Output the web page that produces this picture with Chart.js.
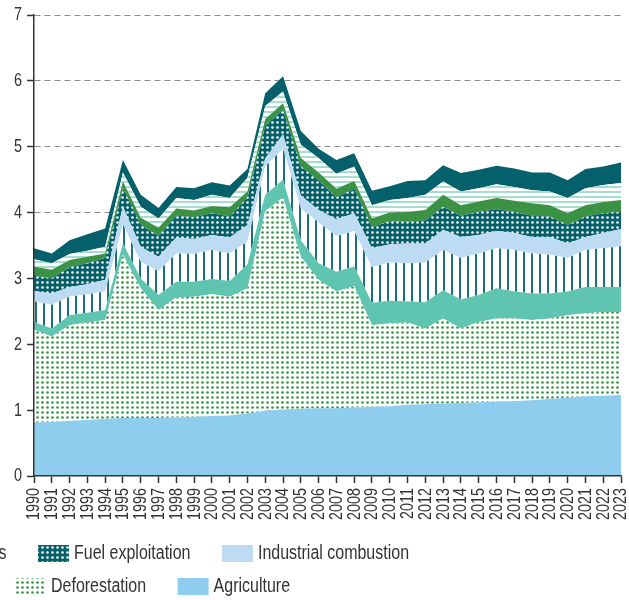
<!DOCTYPE html>
<html>
<head>
<meta charset="utf-8">
<script src="https://cdn.jsdelivr.net/npm/chart.js@4.4.1/dist/chart.umd.min.js"></script>
<style>
html,body{margin:0;padding:0;background:#fff;overflow:hidden}
#wrap{width:629px;height:600px;position:relative}
</style>
</head>
<body>
<div id="wrap"><canvas id="c" width="629" height="600"></canvas></div>
<script>
// ---- data ----
const years = ['1990','1991','1992','1993','1994','1995','1996','1997','1998','1999','2000','2001','2002','2003','2004','2005','2006','2007','2008','2009','2010','2011','2012','2013','2014','2015','2016','2017','2018','2019','2020','2021','2022','2023'];
const yTicks = [0,1,2,3,4,5,6,7];

const agriculture   = [0.81,0.82,0.84,0.85,0.87,0.88,0.88,0.88,0.89,0.90,0.91,0.92,0.95,0.99,1.01,1.02,1.03,1.03,1.04,1.05,1.06,1.08,1.09,1.10,1.11,1.12,1.13,1.14,1.15,1.17,1.19,1.21,1.22,1.23];
const deforestation = [1.41,1.30,1.45,1.48,1.50,2.48,1.97,1.64,1.82,1.82,1.85,1.80,1.90,3.03,3.22,2.31,1.95,1.77,1.84,1.24,1.26,1.25,1.15,1.29,1.13,1.22,1.26,1.25,1.22,1.22,1.25,1.26,1.27,1.26];
const waste         = [0.12,0.12,0.15,0.15,0.15,0.17,0.15,0.23,0.24,0.23,0.23,0.24,0.36,0.25,0.27,0.25,0.25,0.30,0.30,0.34,0.34,0.32,0.40,0.43,0.44,0.41,0.46,0.41,0.40,0.38,0.36,0.40,0.38,0.38];
const powerIndustry = [0.31,0.36,0.28,0.28,0.28,0.29,0.25,0.36,0.43,0.42,0.44,0.42,0.35,0.43,0.47,0.48,0.62,0.54,0.54,0.54,0.58,0.58,0.60,0.61,0.63,0.63,0.61,0.63,0.61,0.59,0.51,0.56,0.59,0.62];
const industrialCombustion = [0.16,0.17,0.15,0.15,0.18,0.27,0.23,0.22,0.24,0.23,0.23,0.24,0.25,0.12,0.22,0.20,0.19,0.26,0.27,0.29,0.28,0.30,0.29,0.31,0.32,0.28,0.26,0.26,0.25,0.27,0.22,0.20,0.23,0.26];
const fuelExploitation = [0.23,0.23,0.30,0.32,0.33,0.28,0.34,0.31,0.33,0.33,0.33,0.32,0.42,0.50,0.37,0.44,0.45,0.33,0.37,0.32,0.35,0.33,0.35,0.35,0.32,0.35,0.33,0.32,0.32,0.31,0.28,0.31,0.30,0.26];
const processes     = [0.14,0.13,0.11,0.10,0.07,0.10,0.10,0.13,0.11,0.10,0.11,0.14,0.09,0.10,0.10,0.13,0.12,0.13,0.12,0.13,0.13,0.15,0.16,0.18,0.16,0.16,0.17,0.17,0.19,0.17,0.18,0.17,0.17,0.18];
const transport     = [0.11,0.10,0.09,0.09,0.10,0.14,0.17,0.14,0.16,0.16,0.17,0.14,0.21,0.20,0.18,0.20,0.22,0.23,0.22,0.20,0.19,0.21,0.23,0.20,0.21,0.20,0.21,0.21,0.20,0.21,0.23,0.26,0.26,0.26];
const buildings     = [0.17,0.15,0.21,0.25,0.28,0.19,0.18,0.16,0.17,0.18,0.19,0.19,0.13,0.19,0.23,0.21,0.14,0.21,0.20,0.22,0.21,0.26,0.22,0.25,0.28,0.28,0.28,0.28,0.27,0.29,0.27,0.29,0.28,0.31];

const seriesNames = ['Agriculture','Deforestation','Waste','Power industry','Industrial combustion','Fuel exploitation','Processes','Transport','Buildings'];
const seriesData  = [agriculture, deforestation, waste, powerIndustry, industrialCombustion, fuelExploitation, processes, transport, buildings];

// ---- styles ----
const FONT = "'Liberation Sans', Arial, sans-serif";
const SQ_LEGEND = 0.82;    // horizontal condensing, to imitate a narrow typeface
const SQ_TICK = 0.8;
const TICK_SIZE = 18;
const TEXT = '#333333';
const canvas = document.getElementById('c');
const ctx = canvas.getContext('2d');

function makePattern(w, h, draw) {
  const c = document.createElement('canvas');
  c.width = w; c.height = h;
  const x = c.getContext('2d');
  draw(x, w, h);
  return ctx.createPattern(c, 'repeat');
}
const dotsGreen = makePattern(5, 5, (x) => {
  x.fillStyle = '#ffffff'; x.fillRect(0, 0, 5, 5);
  x.fillStyle = '#3a9646'; x.beginPath(); x.arc(2.5, 2.5, 1.35, 0, Math.PI * 2); x.fill();
});
const dotsOnTeal = makePattern(5, 5, (x) => {
  x.fillStyle = '#05606a'; x.fillRect(0, 0, 5, 5);
  x.fillStyle = '#ffffff'; x.beginPath(); x.arc(2.5, 2.5, 1.3, 0, Math.PI * 2); x.fill();
});
const vStripes = makePattern(8, 8, (x) => {
  x.fillStyle = '#ffffff'; x.fillRect(0, 0, 8, 8);
  x.fillStyle = '#1d6f79'; x.fillRect(3, 0, 2, 8);
});
const hStripes = makePattern(5, 5, (x) => {
  x.fillStyle = '#ffffff'; x.fillRect(0, 0, 5, 5);
  x.fillStyle = '#a8dccf'; x.fillRect(0, 1, 5, 2);
});
const fills = ['#8ecdee', dotsGreen, '#5fc4b0', vStripes, '#bddcf3', dotsOnTeal, '#3b9144', hStripes, '#04606a'];

// legend rows (dataset indices), anchored so that visible items sit where the reference has them
const legendRows = [
  { items: [8, 7, 6, 5, 4], anchor: 3, anchorX: 38, y: 545 },
  { items: [3, 2, 1, 0], anchor: 2, anchorX: 15, y: 578 }
];

const legendPlugin = {
  id: 'croppedLegend',
  afterDraw(chart) {
    const c = chart.ctx;
    c.save();
    c.font = '19.5px ' + FONT;
    c.textBaseline = 'middle';
    c.textAlign = 'left';
    const SW = 31, SH = 17, TG = 5, GAP = 31.5;
    const tw = (s) => c.measureText(s).width * SQ_LEGEND;
    legendRows.forEach(row => {
      const pos = [];
      pos[row.anchor] = row.anchorX;
      for (let k = row.anchor + 1; k < row.items.length; k++) {
        pos[k] = pos[k - 1] + SW + TG + tw(seriesNames[row.items[k - 1]]) + GAP;
      }
      for (let k = row.anchor - 1; k >= 0; k--) {
        pos[k] = pos[k + 1] - GAP - tw(seriesNames[row.items[k]]) - TG - SW;
      }
      row.items.forEach((idx, k) => {
        const x = pos[k];
        c.fillStyle = fills[idx];
        c.fillRect(x, row.y, SW, SH);
        c.fillStyle = TEXT;
        c.save();
        c.translate(x + SW + TG, row.y + SH / 2 + 0.5);
        c.scale(SQ_LEGEND, 1);
        c.fillText(seriesNames[idx], 0, 0);
        c.restore();
      });
    });
    c.restore();
  }
};

// tick labels drawn condensed at the positions given by Chart.js scales
const tickLabelPlugin = {
  id: 'condensedTicks',
  afterDraw(chart) {
    const c = chart.ctx, xs = chart.scales.x, ys = chart.scales.y;
    c.save();
    c.fillStyle = TEXT;
    c.font = TICK_SIZE + 'px ' + FONT;
    c.textAlign = 'right';
    c.textBaseline = 'middle';
    ys.ticks.forEach((t) => {
      const py = ys.getPixelForValue(t.value);
      c.save();
      c.translate(ys.right - 7 - 5, py + 0.5);
      c.scale(SQ_TICK, 1);
      c.fillText(String(t.value), 0, 0);
      c.restore();
    });
    xs.ticks.forEach((t, i) => {
      const px = xs.getPixelForTick(i);
      c.save();
      c.translate(px + 0.5, xs.top + 7 + 5);
      c.rotate(-Math.PI / 2);
      c.scale(SQ_TICK, 1);
      c.fillText(years[i], 0, 0);
      c.restore();
    });
    c.restore();
  }
};

new Chart(ctx, {
  type: 'line',
  data: {
    labels: years,
    datasets: seriesData.map((d, i) => ({
      label: seriesNames[i],
      data: d,
      backgroundColor: fills[i],
      borderColor: 'rgba(0,0,0,0)',
      borderWidth: 0,
      pointRadius: 0,
      tension: 0,
      fill: i === 0 ? 'origin' : '-1'
    }))
  },
  options: {
    responsive: false,
    animation: false,
    events: [],
    layout: { padding: { left: 0, right: 8, top: 15, bottom: 0 } },
    plugins: { legend: { display: false }, tooltip: { enabled: false } },
    scales: {
      x: {
        grid: { drawOnChartArea: false, drawTicks: true, tickLength: 7, tickColor: TEXT, tickWidth: 1.5 },
        border: { display: true, color: TEXT, width: 1.5, z: 1 },
        ticks: { autoSkip: false, maxRotation: 90, minRotation: 90, padding: 4, color: 'rgba(0,0,0,0)', font: { family: FONT, size: TICK_SIZE } },
        afterFit(s) { s.height = 124; s.paddingLeft = 0; s.paddingRight = 0; }
      },
      y: {
        stacked: true,
        min: yTicks[0],
        max: yTicks[yTicks.length - 1],
        afterBuildTicks(s) { s.ticks = yTicks.map(v => ({ value: v })); },
        ticks: { padding: 6, color: 'rgba(0,0,0,0)', font: { family: FONT, size: TICK_SIZE } },
        grid: {
          color: (c) => (c.tick && c.tick.value === 0) ? 'rgba(0,0,0,0)' : '#8c8c8c',
          lineWidth: 1,
          tickColor: TEXT, tickWidth: 1.5, tickLength: 7
        },
        border: { display: true, color: TEXT, width: 1.5, dash: [6, 4], z: 1 },
        afterFit(s) { s.width = 34; s.paddingTop = 0; s.paddingBottom = 0; }
      }
    }
  },
  plugins: [tickLabelPlugin, legendPlugin]
});
</script>
</body>
</html>
